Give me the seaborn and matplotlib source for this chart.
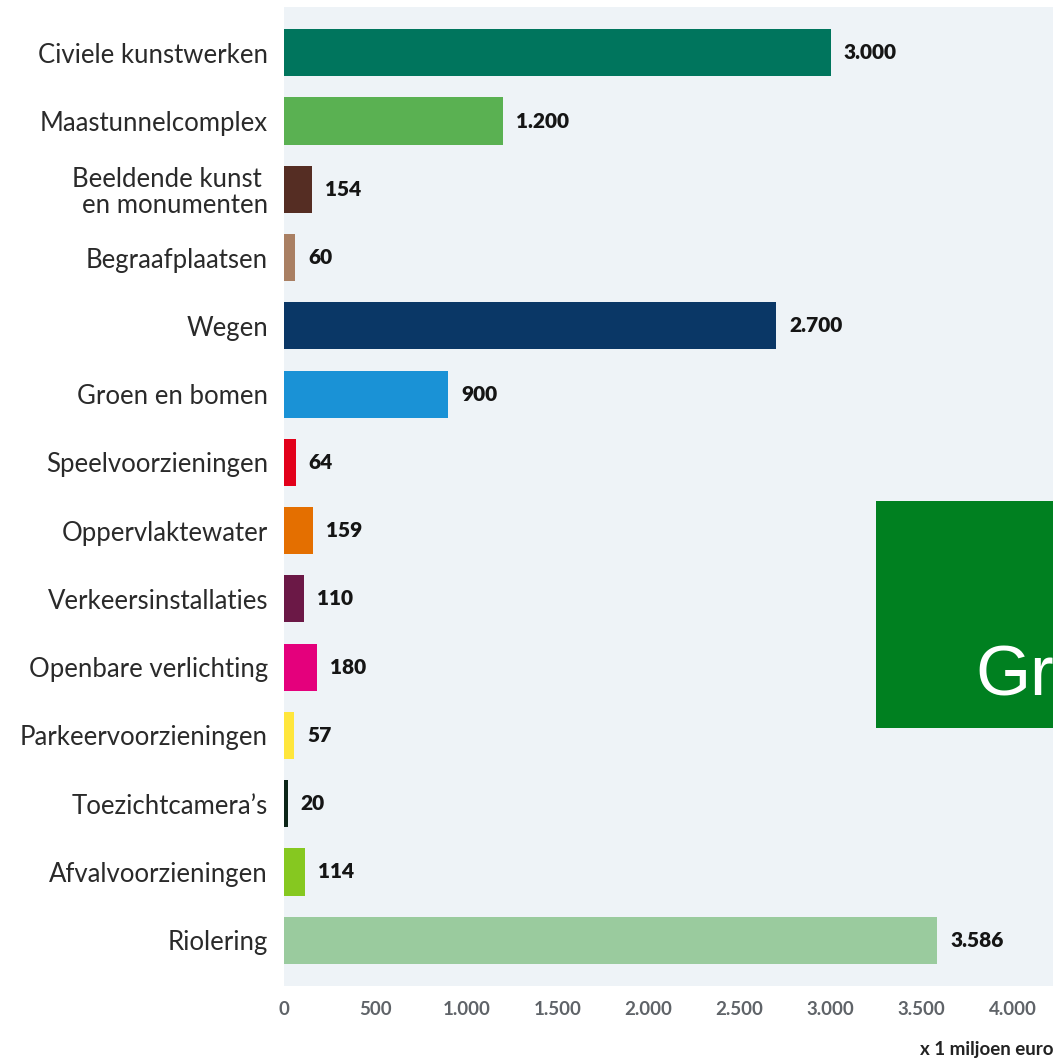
import pandas as pd
import matplotlib
matplotlib.use('Agg')
import matplotlib.pyplot as plt
from matplotlib.patches import Rectangle
from matplotlib.ticker import FuncFormatter
import seaborn as sns

# Data: onderhoudskosten openbare ruimte (x 1 miljoen euro)
categorieen = [
    'Civiele kunstwerken', 'Maastunnelcomplex', 'Beeldende kunst \nen monumenten',
    'Begraafplaatsen', 'Wegen', 'Groen en bomen', 'Speelvoorzieningen',
    'Oppervlaktewater', 'Verkeersinstallaties', 'Openbare verlichting',
    'Parkeervoorzieningen', 'Toezichtcamera’s', 'Afvalvoorzieningen', 'Riolering',
]
waarden = [3000, 1200, 154, 60, 2700, 900, 64, 159, 110, 180, 57, 20, 114, 3586]
kleuren = [
    '#00755d', '#5ab152', '#552d23', '#a97f63', '#0a3766', '#1a92d6', '#e2001a',
    '#e46f00', '#6b1846', '#e4007c', '#ffe63c', '#0c2518', '#86c820', '#9acb9e',
]
x_ticks = [0, 500, 1000, 1500, 2000, 2500, 3000, 3500, 4000]

sns.set_style('white')
plt.rcParams['font.family'] = ['Lato', 'DejaVu Sans']

df = pd.DataFrame({'categorie': categorieen, 'waarde': waarden})

fig = plt.figure(figsize=(10.53, 10.60), dpi=100)
ax = fig.add_axes([284 / 1053, 74 / 1060, 1 - 284 / 1053, 979 / 1060])
ax.set_facecolor('#eef3f7')

sns.barplot(data=df, x='waarde', y='categorie', hue='categorie', palette=kleuren,
            legend=False, orient='h', width=0.69, saturation=1, linewidth=0, ax=ax)

ax.set_xlim(0, 4220)
ax.set_ylim(len(categorieen) - 0.33, -0.67)
ax.set_xticks(x_ticks)
ax.xaxis.set_major_formatter(FuncFormatter(lambda v, p: f'{int(v):,}'.replace(',', '.')))
ax.tick_params(axis='x', length=0, pad=11, labelsize=13.5, labelcolor='#5f6368')
for lbl in ax.get_xticklabels():
    lbl.set_fontweight('bold')
ax.tick_params(axis='y', length=0, pad=11.5, labelsize=18.5, labelcolor='#2a2a2a')
for lbl in ax.get_yticklabels():
    lbl.set_linespacing(1.05)
ax.set_xlabel('')
ax.set_ylabel('')
for s in ax.spines.values():
    s.set_visible(False)

# waarden achter de balken
for i, w in enumerate(waarden):
    ax.annotate(f'{w:,}'.replace(',', '.'), xy=(w, i), xytext=(9.5, 0),
                textcoords='offset points', va='center', ha='left',
                fontsize=15, fontweight='heavy', color='#151515')

fig.text(920 / 1053, 1 - 1050 / 1060, 'x 1 miljoen euro', fontsize=13.5,
         fontweight='bold', color='#222222', ha='left', va='center')

# groen blok rechts
fig.patches.append(Rectangle((876 / 1053, 1 - 728 / 1060), 177 / 1053, 227 / 1060,
                             transform=fig.transFigure, facecolor='#008020',
                             edgecolor='none', zorder=5))
fig.text(975 / 1053, 1 - 696 / 1060, 'Gr', fontsize=51, color='white',
         family='Liberation Sans', ha='left', va='baseline', zorder=6)

fig.savefig('out.png', dpi=100)
